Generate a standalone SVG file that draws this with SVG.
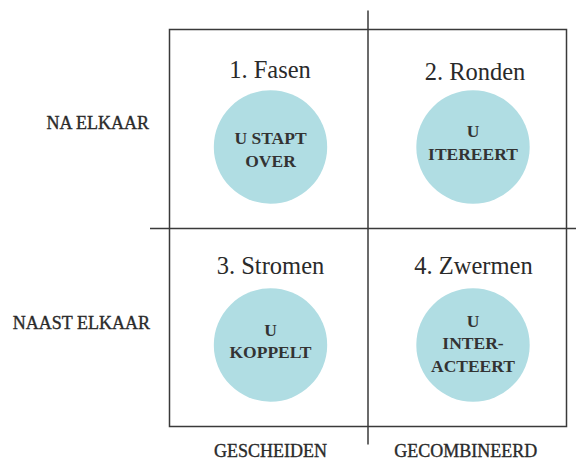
<svg xmlns="http://www.w3.org/2000/svg" width="576" height="462" viewBox="0 0 576 462">
<style>
.ln{stroke:#3a3a3a;stroke-width:1.5;fill:none}
.c{fill:#b0dde3}
.t{font-family:"Liberation Serif","Times New Roman",serif;font-size:24.5px;fill:#2a2a2a;text-anchor:middle}
.b{font-family:"Liberation Serif","Times New Roman",serif;font-size:17.5px;font-weight:bold;fill:#333;text-anchor:middle}
.a{font-family:"Liberation Serif","Times New Roman",serif;font-size:18px;fill:#2a2a2a;stroke:#2a2a2a;stroke-width:0.35}
</style>
<rect width="576" height="462" fill="#fff"/>
<g id="connectors">
<rect class="ln" x="169.5" y="29.5" width="397" height="397"/>
<line class="ln" x1="368" y1="10.5" x2="368" y2="444.5"/>
<line class="ln" x1="150" y1="228.5" x2="576" y2="228.5"/>
</g>
<g id="fasen">
<text class="t" x="270" y="77.5">1. Fasen</text>
<circle class="c" cx="270.5" cy="147" r="56.7"/>
<text class="b" x="270.5" y="144">U STAPT</text>
<text class="b" x="270.5" y="166.7">OVER</text>
</g>
<g id="ronden">
<text class="t" x="475" y="79.5">2. Ronden</text>
<circle class="c" cx="473" cy="147" r="56.7"/>
<text class="b" x="473" y="136.7">U</text>
<text class="b" x="473" y="160">ITEREERT</text>
</g>
<g id="stromen">
<text class="t" x="270.5" y="274">3. Stromen</text>
<circle class="c" cx="270.5" cy="345" r="56.7"/>
<text class="b" x="270.5" y="335.7">U</text>
<text class="b" x="270.5" y="357.7">KOPPELT</text>
</g>
<g id="zwermen">
<text class="t" x="473.5" y="274">4. Zwermen</text>
<circle class="c" cx="473" cy="345" r="56.7"/>
<text class="b" x="473" y="326.7">U</text>
<text class="b" x="473" y="349">INTER-</text>
<text class="b" x="473" y="371.7">ACTEERT</text>
</g>
<g id="axes">
<text class="a" x="149" y="128.5" text-anchor="end">NA ELKAAR</text>
<text class="a" x="150" y="329" text-anchor="end">NAAST ELKAAR</text>
<text class="a" x="270.5" y="457.3" text-anchor="middle">GESCHEIDEN</text>
<text class="a" x="465.7" y="457.3" text-anchor="middle">GECOMBINEERD</text>
</g>
</svg>
